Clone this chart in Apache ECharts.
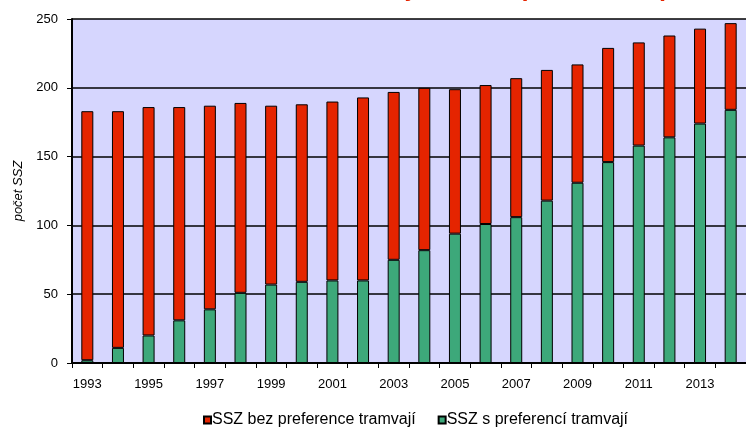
<!DOCTYPE html>
<html>
<head>
<meta charset="utf-8">
<script src="https://cdn.jsdelivr.net/npm/echarts@6/dist/echarts.min.js"></script>
<style>
  html, body { margin: 0; padding: 0; background: #ffffff; }
  #chart { width: 746px; height: 434px; }
</style>
</head>
<body>
<div id="chart"></div>
<script>
// Years on the category axis
const years = ['1993','1994','1995','1996','1997','1998','1999','2000','2001','2002','2003',
               '2004','2005','2006','2007','2008','2009','2010','2011','2012','2013','2014'];
// Signalised intersections with tram priority
const withPriority = [2, 11, 20, 31, 39, 51, 57, 59, 60, 60, 75, 82, 94, 101, 106, 118, 131, 146, 158, 164, 174, 184];
// Total count of signalised intersections
const totalCount = [183, 183, 186, 186, 187, 189, 187, 188, 190, 193, 197, 200, 199, 202, 207, 213, 217, 229, 233, 238, 243, 247];
// Intersections without tram priority = total minus those with priority
const withoutPriority = totalCount.map((t, i) => t - withPriority[i]);

const yTicks = { min: 0, max: 250, interval: 50 };

const chart = echarts.init(document.getElementById('chart'), null, { renderer: 'canvas' });
const font = 'Liberation Sans, Arial, sans-serif';

chart.setOption({
  animation: false,
  backgroundColor: '#ffffff',
  title: {
    text: 'Preference tramvají na SSZ (1993 - 2014)',
    left: 183,
    top: -28,
    textStyle: { color: '#e52400', fontSize: 25, fontWeight: 'bold', fontFamily: font }
  },
  legend: {
    data: ['SSZ bez preference tramvají', 'SSZ s preferencí tramvají'],
    bottom: 1,
    left: 198,
    icon: 'rect',
    itemWidth: 7,
    itemHeight: 7,
    itemGap: 22,
    textStyle: { color: '#000', fontSize: 16, fontFamily: font, padding: [0, 0, 0, -4] }
  },
  grid: {
    left: 72,
    right: -5,
    top: 19,
    bottom: 71,
    show: true,
    backgroundColor: '#d6d6fe',
    borderWidth: 0
  },
  xAxis: {
    type: 'category',
    data: years,
    boundaryGap: true,
    axisLine: { lineStyle: { color: '#000', width: 2 } },
    axisTick: { show: true, interval: 0, length: 5, lineStyle: { color: '#000', width: 1 } },
    axisLabel: { interval: 1, color: '#000', fontSize: 13, fontFamily: font, margin: 15 }
  },
  yAxis: {
    type: 'value',
    min: yTicks.min,
    max: yTicks.max,
    interval: yTicks.interval,
    name: 'počet SSZ',
    nameLocation: 'middle',
    nameGap: 47,
    nameTextStyle: { color: '#000', fontSize: 13, fontStyle: 'italic', fontFamily: font },
    axisLine: { show: true, lineStyle: { color: '#000', width: 2 } },
    axisTick: { show: true, length: 5, lineStyle: { color: '#000', width: 1 } },
    axisLabel: { color: '#000', fontSize: 13, fontFamily: font, margin: 14 },
    splitLine: { show: true, lineStyle: { color: '#000', width: 1.5 } }
  },
  series: [
    {
      name: 'SSZ s preferencí tramvají',
      type: 'bar',
      stack: 'ssz',
      barWidth: 12,
      data: withPriority,
      itemStyle: { color: '#3da87a', borderColor: '#000', borderWidth: 1 }
    },
    {
      name: 'SSZ bez preference tramvají',
      type: 'bar',
      stack: 'ssz',
      barWidth: 12,
      data: withoutPriority,
      itemStyle: { color: '#e52400', borderColor: '#000', borderWidth: 1 }
    }
  ]
});
</script>
</body>
</html>
